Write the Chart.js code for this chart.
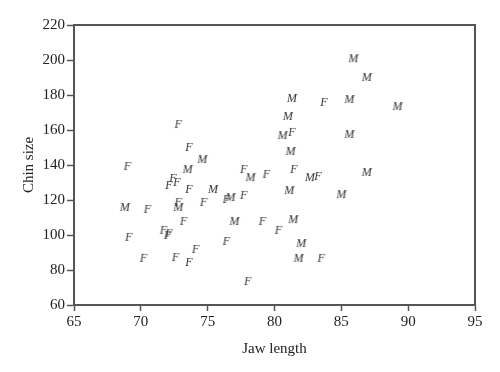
<!DOCTYPE html>
<html>
<head>
<meta charset="utf-8">
<script src="https://cdn.jsdelivr.net/npm/chart.js@4"></script>
<style>
  html, body { margin: 0; padding: 0; background: #fff; }
  #wrap { width: 500px; height: 372px; }
</style>
</head>
<body>
<div id="wrap"><canvas id="myChart" width="500" height="372"></canvas></div>
<script>
(function () {
    "use strict";

    // males: [jaw length, chin size]
    var maleJaw  = [85.9, 86.9, 81.3, 85.6, 89.2, 81.0, 80.6, 85.6, 81.2, 74.6, 73.5, 78.2, 82.65, 86.9, 75.4, 81.1, 85.0, 68.8, 72.8, 76.7, 77.0, 81.4, 82.0, 81.8];
    var maleChin = [201, 190.3, 178.3, 177.7, 173.7, 168, 157.1, 157.7, 148, 143.4, 137.7, 133.1, 133.1, 136, 126.3, 125.7, 123.4, 116, 116, 121.7, 108, 109.1, 95.4, 86.9];

    // females
    var femaleJaw  = [83.7, 81.3, 72.8, 73.6, 69.0, 77.7, 79.4, 81.45, 83.25, 72.4, 72.7, 72.1, 73.6, 70.5, 72.8, 74.7, 76.4, 77.7, 73.2, 79.1, 71.7, 72.1, 72.0, 69.1, 80.3, 74.1, 76.4, 70.2, 72.6, 73.6, 83.5, 78.0];
    var femaleChin = [176, 158.9, 163.4, 150.3, 139.4, 137.7, 134.9, 137.7, 133.7, 132.6, 130.3, 128.6, 126.3, 114.9, 118.9, 118.9, 120.6, 122.9, 108, 108, 102.9, 101.1, 100, 98.9, 102.9, 92, 96.6, 86.9, 87.4, 84.6, 86.9, 73.7];

    var xTicks = [65, 70, 75, 80, 85, 90, 95];
    var yTicks = [60, 80, 100, 120, 140, 160, 180, 200, 220];

    var serif = "'Liberation Serif', 'DejaVu Serif', serif";

    function pairs(xs, ys) {
        return xs.map(function (x, i) { return { x: x, y: ys[i] }; });
    }

    function letterMarker(ch) {
        var c = document.createElement('canvas');
        c.width = 16; c.height = 16;
        var g = c.getContext('2d');
        g.fillStyle = '#333';
        g.font = 'italic 12px ' + serif;
        g.textAlign = 'center';
        g.textBaseline = 'middle';
        g.fillText(ch, 8, 8.5);
        return c;
    }

    var framePlugin = {
        id: 'frame',
        afterDraw: function (chart) {
            var a = chart.chartArea, ctx = chart.ctx;
            ctx.save();
            ctx.strokeStyle = '#555';
            ctx.lineWidth = 2;
            ctx.beginPath();
            ctx.moveTo(a.left, a.top);
            ctx.lineTo(a.right, a.top);
            ctx.lineTo(a.right, a.bottom);
            ctx.stroke();
            ctx.restore();
        }
    };

    var ctx = document.getElementById('myChart');
    new Chart(ctx, {
        type: 'scatter',
        data: {
            datasets: [
                {
                    label: 'M',
                    data: pairs(maleJaw, maleChin),
                    pointStyle: letterMarker('M'),
                    pointRadius: 8
                },
                {
                    label: 'F',
                    data: pairs(femaleJaw, femaleChin),
                    pointStyle: letterMarker('F'),
                    pointRadius: 8
                }
            ]
        },
        options: {
            responsive: false,
            animation: false,
            layout: { padding: { left: 16, right: 25, top: 25, bottom: 10 } },
            plugins: {
                legend: { display: false },
                tooltip: { enabled: false }
            },
            scales: {
                x: {
                    type: 'linear',
                    min: 65, max: 95,
                    afterBuildTicks: function (s) { s.ticks = xTicks.map(function (v) { return { value: v }; }); },
                    afterFit: function (s) { s.height = 57; },
                    grid: { drawOnChartArea: false, tickLength: 6, color: '#555', tickWidth: 1.5 },
                    border: { color: '#555', width: 2 },
                    ticks: { color: '#222', padding: 2, maxRotation: 0, font: { family: serif, size: 15 } },
                    title: { display: true, text: 'Jaw length', color: '#222', padding: { top: 6 }, font: { family: serif, size: 15 } }
                },
                y: {
                    min: 60, max: 220,
                    afterBuildTicks: function (s) { s.ticks = yTicks.map(function (v) { return { value: v }; }); },
                    afterFit: function (s) { s.width = 58; },
                    grid: { drawOnChartArea: false, tickLength: 7, color: '#555', tickWidth: 1.5 },
                    border: { color: '#555', width: 2 },
                    ticks: { color: '#222', padding: 2, font: { family: serif, size: 15 } },
                    title: { display: true, text: 'Chin size', color: '#222', padding: { bottom: 4 }, font: { family: serif, size: 15 } }
                }
            }
        },
        plugins: [framePlugin]
    });
})();
</script>
</body>
</html>
